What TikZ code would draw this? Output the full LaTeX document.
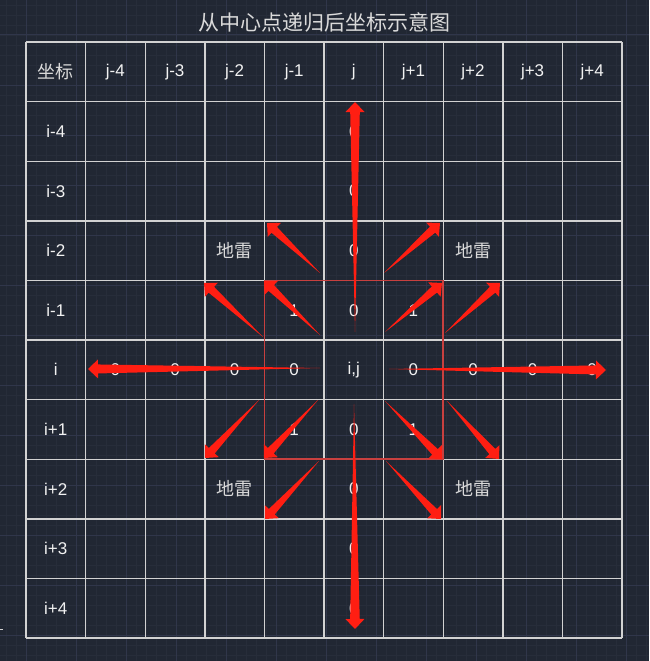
\documentclass[tikz,border=0pt]{standalone}
\usepackage{fontspec}
\setmainfont{Liberation Sans}
\newfontfamily\cjk{Noto Sans CJK SC}
\usetikzlibrary{calc}
\definecolor{bg}{HTML}{212733}
\definecolor{gminor}{HTML}{272D3A}
\definecolor{gmajor}{HTML}{30364A}
\definecolor{tline}{HTML}{D2D2D2}
\definecolor{txt}{HTML}{F2F2F2}
\definecolor{cjktxt}{HTML}{DADADA}
\definecolor{arrowred}{HTML}{FF1E12}
\definecolor{boxred}{HTML}{C8403F}
\newcommand\redarrow[3]{%
  \fill[arrowred] (#1) -- ($(#2)!10pt!(#1)!#3!90:(#2)$)
    -- ($(#2)!10pt!(#1)!9.5pt!90:(#2)$) -- (#2)
    -- ($(#2)!10pt!(#1)!9.5pt!-90:(#2)$)
    -- ($(#2)!10pt!(#1)!#3!-90:(#2)$) -- cycle;}
\tikzset{
  minorline/.style={gminor, line width=0.8pt},
  majorline/.style={gmajor, line width=1pt},
  tableline/.style={tline, line width=1.4pt},
  lbl/.style={text=txt, font=\fontsize{17}{17}\selectfont, inner sep=0pt, anchor=center},
  cjklbl/.style={text=cjktxt, font=\cjk\fontsize{18}{18}\selectfont, inner sep=0pt, anchor=center},
  titlelbl/.style={text=cjktxt, font=\cjk\fontsize{21}{21}\selectfont, inner sep=0pt, anchor=center},
  redbox/.style={boxred, line width=1.5pt}
}
\begin{document}
\begin{tikzpicture}[x=1pt,y=-1pt]
\useasboundingbox (0,0) rectangle (649,661);
\fill[bg] (0,0) rectangle (649,661);
% background CAD grid
\foreach \i in {0,...,64} \draw[minorline] ({6+10*\i},0) -- ({6+10*\i},661);
\foreach \i in {0,...,66} \draw[minorline] (0,{5+10*\i}) -- (649,{5+10*\i});
\foreach \i in {0,...,12} \draw[majorline] ({26+50*\i},0) -- ({26+50*\i},661);
\foreach \i in {0,...,12} \draw[majorline] (0,{35+50*\i}) -- (649,{35+50*\i});
% table
\foreach \k in {0,...,10} \draw[tableline] ({26+59.6*\k},42) -- ({26+59.6*\k},638);
\foreach \k in {0,...,10} \draw[tableline] (26,{42+59.6*\k}) -- (622,{42+59.6*\k});
% title
\node[titlelbl] (title) at (324,22) {从中心点递归后坐标示意图};
% header row
\node[cjklbl] (n-0-0) at (55.8,71.8) {坐标};
\foreach \t [count=\c] in {j-4,j-3,j-2,j-1,j,j+1,j+2,j+3,j+4}
  \node[lbl] (n-0-\c) at ({26+59.6*\c+29.8},71.8) {\t};
\foreach \t [count=\r] in {i-4,i-3,i-2,i-1,i,i+1,i+2,i+3,i+4}
  \node[lbl] (n-\r-0) at (55.8,{42+59.6*\r+29.8}) {\t};
% body
\foreach \r in {1,2,3,4,6,7,8,9}
  \node[lbl] (n-\r-5) at ({26+59.6*5+29.8},{42+59.6*\r+29.8}) {0};
\foreach \c in {1,2,3,4,6,7,8,9}
  \node[lbl] (n-5-\c) at ({26+59.6*\c+29.8},{42+59.6*5+29.8}) {0};
\node[lbl] (n-5-5) at ({26+59.6*5+29.8},{42+59.6*5+29.8}) {i,j};
\foreach \r/\c in {4/4,4/6,6/4,6/6}
  \node[lbl] (n-\r-\c) at ({26+59.6*\c+29.8},{42+59.6*\r+29.8}) {1};
\foreach \r/\c in {3/3,3/7,7/3,7/7}
  \node[cjklbl] (n-\r-\c) at ({26+59.6*\c+29.8},{42+59.6*\r+29.8}) {地雷};
% red box around 3x3 block
\draw[redbox] (264.4,280.4) rectangle (443.2,459.2);
% arrow end points
\coordinate (s1) at (355,332); \coordinate (t1) at (355,102);
\coordinate (s2) at (354,404); \coordinate (t2) at (355,629);
\coordinate (s3) at (320,368); \coordinate (t3) at (88,369);
\coordinate (s4) at (389,369); \coordinate (t4) at (606,370);
\coordinate (d1s) at (320,273); \coordinate (d1t) at (267,223);
\coordinate (d2s) at (384,273); \coordinate (d2t) at (440,223);
\coordinate (d3s) at (320,335); \coordinate (d3t) at (264,281);
\coordinate (d4s) at (385,332); \coordinate (d4t) at (442,283);
\coordinate (d5s) at (263,337); \coordinate (d5t) at (204,283);
\coordinate (d6s) at (445,333); \coordinate (d6t) at (500,283);
\coordinate (d7s) at (318,400); \coordinate (d7t) at (264,458);
\coordinate (d8s) at (385,401); \coordinate (d8t) at (442,459);
\coordinate (d9s) at (259,400); \coordinate (d9t) at (205,458);
\coordinate (d10s) at (447,401); \coordinate (d10t) at (499,459);
\coordinate (d11s) at (319,461); \coordinate (d11t) at (265,519);
\coordinate (d12s) at (386,461); \coordinate (d12t) at (441,519);
% arrows
\redarrow{s1}{t1}{4.8pt}
\redarrow{s2}{t2}{4.8pt}
\redarrow{s3}{t3}{4.5pt}
\redarrow{s4}{t4}{4.5pt}
\foreach \k in {1,...,12} {\redarrow{d\k s}{d\k t}{4pt}}
% small mark at left edge
\draw[tline, line width=0.8pt] (0,629) -- (3,629);
\end{tikzpicture}
\end{document}
